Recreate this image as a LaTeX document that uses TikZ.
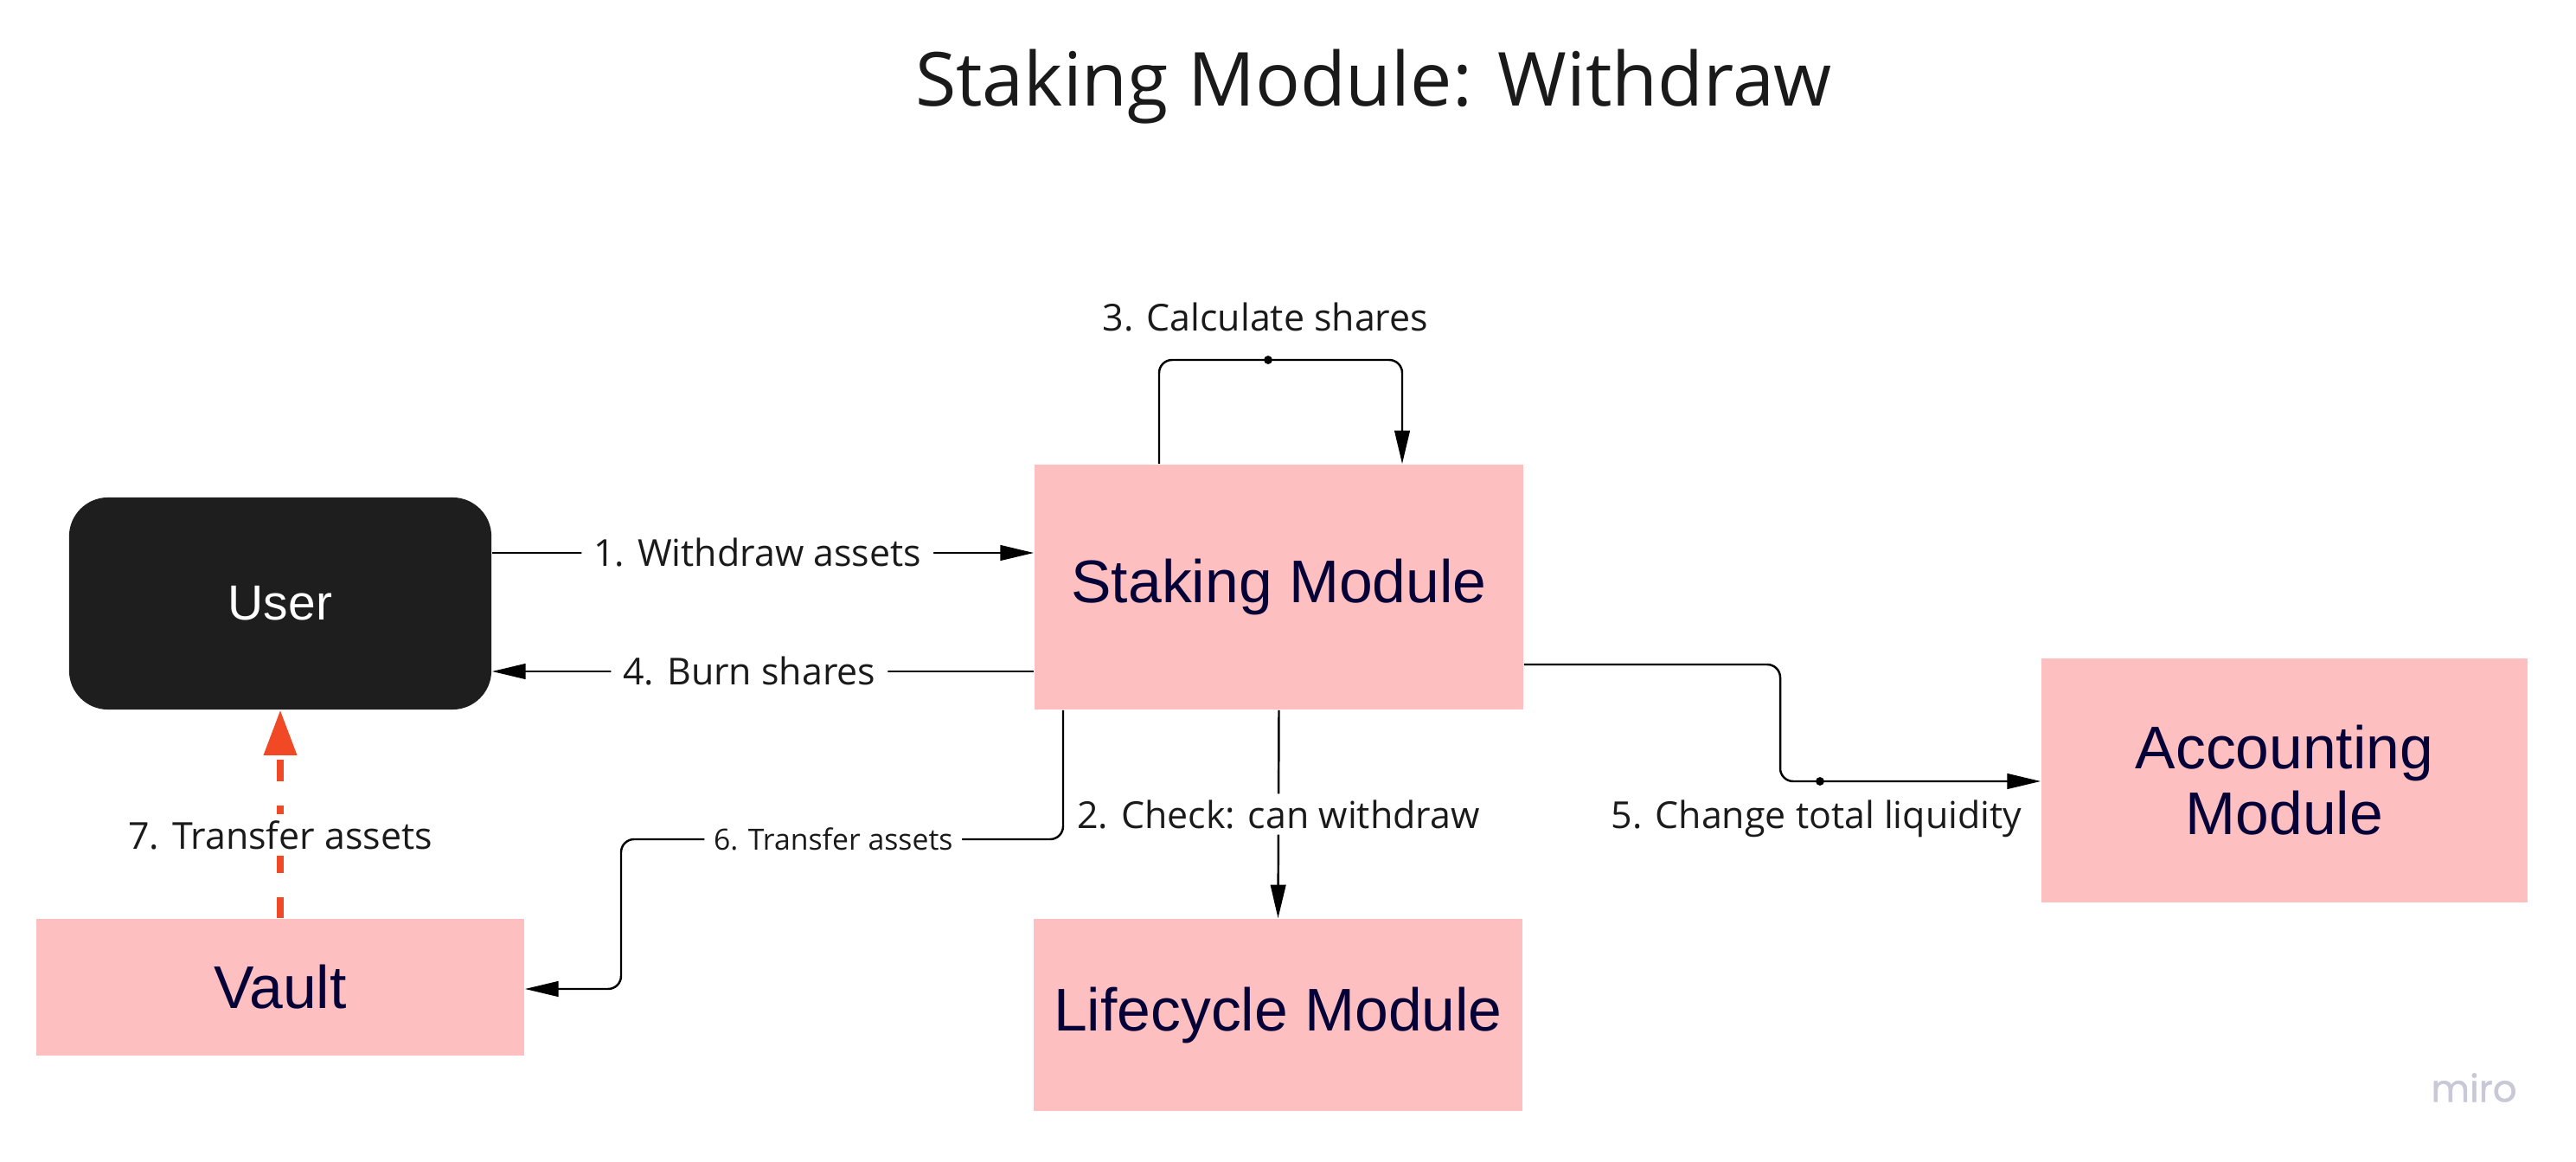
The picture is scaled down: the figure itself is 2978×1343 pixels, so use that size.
\documentclass[tikz,border=0pt]{standalone}
\usepackage{fontspec}
\setmainfont{Open Sans}
\newfontfamily\arialfont{Liberation Sans}
\newfontfamily\popfont[FakeBold=1.2]{Poppins}
\usetikzlibrary{arrows.meta}
\definecolor{pinkfill}{RGB}{253,191,191}
\definecolor{navy}{RGB}{5,0,56}
\definecolor{userfill}{RGB}{30,30,30}
\definecolor{redline}{RGB}{241,72,38}
\definecolor{mirogrey}{RGB}{200,200,214}
\definecolor{ink}{RGB}{26,26,26}
\begin{document}
\begin{tikzpicture}[x=0.01cm,y=-0.01cm,
  module/.style={fill=pinkfill, draw=none, text=navy, font=\arialfont\fontsize{19.8pt}{21.6pt}\selectfont, align=center, inner sep=0pt},
  lbl/.style={fill=white, text=ink, font=\fontsize{12.2pt}{14pt}\selectfont, inner xsep=4pt, inner ysep=2pt},
  smalllbl/.style={lbl, font=\fontsize{9.6pt}{11pt}\selectfont, inner xsep=3pt},
  plainlbl/.style={text=ink, font=\fontsize{12.2pt}{14pt}\selectfont, inner sep=0pt},
  conn/.style={draw=black, line width=0.7pt, rounded corners=0.15cm},
  tip/.style={-{Triangle[length=11pt,width=5pt]}},
]
\useasboundingbox (0,0) rectangle (2978,1343);

\node[anchor=base, text=ink, font=\fontsize{24.5pt}{28pt}\selectfont, inner sep=0pt] (title) at (1588,123) {Staking Module: Withdraw};

\node[module, minimum width=5.65cm, minimum height=2.83cm] (staking) at (1478.5,678.5) {Staking Module};
\node[module, minimum width=5.65cm, minimum height=2.22cm] (life) at (1477.5,1173) {Lifecycle Module};
\node[module, minimum width=5.64cm, minimum height=1.58cm] (vault) at (324,1141) {Vault};
\node[module, minimum width=5.62cm, minimum height=2.82cm] (acc) at (2641,902) {Accounting\\Module};
\node[fill=userfill, rounded corners=0.45cm, minimum width=4.88cm, minimum height=2.45cm, inner sep=0pt, text=white, font=\arialfont\fontsize{16.2pt}{19pt}\selectfont] (user) at (324,697.5) {User};

% 1 and 4
\coordinate (y1) at (0,639);
\coordinate (y4) at (0,776);
\draw[conn, tip] (user.east |- y1) -- node[lbl, pos=0.49]{1. Withdraw assets} (staking.west |- y1);
\draw[conn, tip] (staking.west |- y4) -- node[lbl, pos=0.525]{4. Burn shares} (user.east |- y4);

% 2
\draw[conn, tip] (staking.south) -- node[lbl]{2. Check: can withdraw} (life.north);

% 3 self loop
\coordinate (l3a) at (1340,0);
\coordinate (l3b) at (1621,0);
\coordinate (l3top) at (1466,416);
\draw[conn, tip] (staking.north -| l3a) |- (l3top) -| (staking.north -| l3b);
\fill (l3top) circle[radius=1.4pt];
\node[plainlbl, anchor=base] (l3) at (1463,383) {3. Calculate shares};

% 5
\coordinate (y5) at (0,768);
\coordinate (c5) at (2058,903);
\coordinate (d5) at (2104,903);
\draw[conn, tip] (staking.east |- y5) -| (c5) -- (acc.west |- c5);
\fill (d5) circle[radius=1.4pt];
\node[plainlbl, anchor=base] (l5) at (2100,957) {5. Change total liquidity};

% 6
\coordinate (s6) at (1229,0);
\coordinate (c6) at (718,970);
\coordinate (y6) at (0,1143);
\draw[conn, tip] (staking.south -| s6) |- node[smalllbl, pos=0.76]{6. Transfer assets} (c6) |- (vault.east |- y6);

% 7
\draw[draw=redline, line width=2pt, dash pattern=on 7pt off 8pt, -{Triangle[length=14.8pt,width=10.5pt,fill=redline]}] (vault.north) -- node[lbl, pos=0.4]{7. Transfer assets} (user.south);

\node[text=mirogrey, font=\popfont\fontsize{12.3pt}{14pt}\selectfont, inner sep=0pt] (miro) at (2860,1257) {miro};
\end{tikzpicture}
\end{document}
